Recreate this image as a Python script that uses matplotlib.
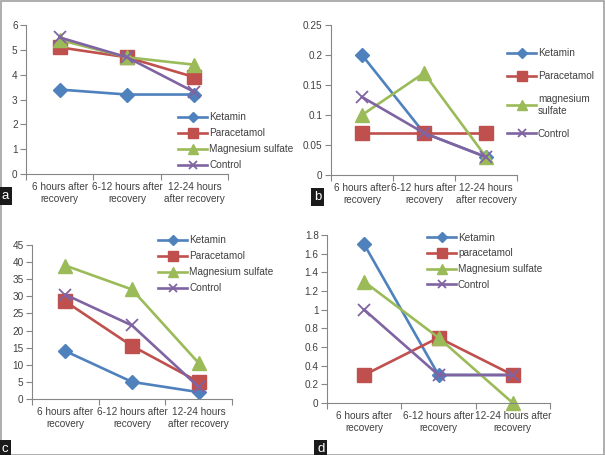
import matplotlib
matplotlib.use("Agg")
import matplotlib.pyplot as plt
from matplotlib.patches import Rectangle

plt.rcParams['font.family'] = ['Liberation Sans', 'DejaVu Sans']

# data
cats_a = ["6 hours after\nrecovery", "6-12 hours after\nrecovery", "12-24 hours\nafter recovery"]
cats_b = ["6 hours after\nrecovery", "6-12 hurs after\nrecovery", "12-24 hours\nafter recovery"]
cats_c = ["6 hours after\nrecovery", "6-12 hours after\nrecovery", "12-24 hours\nafter recovery"]
cats_d = ["6 hours after\nrecovery", "6-12 hours after\nrecovery", "12-24 hours after\nrecovery"]

names_a = ["Ketamin", "Paracetamol", "Magnesium sulfate", "Control"]
names_b = ["Ketamin", "Paracetamol", "magnesium\nsulfate", "Control"]
names_c = ["Ketamin", "Paracetamol", "Magnesium sulfate", "Control"]
names_d = ["Ketamin", "paracetamol", "Magnesium sulfate", "Control"]

ket_a = [3.4, 3.2, 3.2]
par_a = [5.1, 4.7, 3.9]
mag_a = [5.4, 4.7, 4.4]
con_a = [5.5, 4.7, 3.3]

ket_b = [0.2, 0.07, 0.03]
par_b = [0.07, 0.07, 0.07]
mag_b = [0.1, 0.17, 0.03]
con_b = [0.13, 0.07, 0.03]

ket_c = [14, 5, 2]
par_c = [28.5, 15.5, 5]
mag_c = [39, 32, 10.5]
con_c = [30.5, 21.5, 3.5]

ket_d = [1.7, 0.3, 0.3]
par_d = [0.3, 0.7, 0.3]
mag_d = [1.3, 0.7, 0.0]
con_d = [1.0, 0.3, 0.3]

yticks_a = [0, 1, 2, 3, 4, 5, 6]
yticks_b = [0, 0.05, 0.1, 0.15, 0.2, 0.25]
yticks_c = [0, 5, 10, 15, 20, 25, 30, 35, 40, 45]
yticks_d = [0, 0.2, 0.4, 0.6, 0.8, 1, 1.2, 1.4, 1.6, 1.8]

colors = ["#4F81BD", "#C0504D", "#9BBB59", "#8064A2"]
markers = ["D", "s", "^", "x"]
msizes = [7, 9.5, 10, 8]

W, H = 605, 455
fig = plt.figure(figsize=(W / 100, H / 100), dpi=100)
gray = "#868686"


def px_axes(x0, x1, ytop, ybot):
    return fig.add_axes([x0 / W, (H - ybot) / H, (x1 - x0) / W, (ybot - ytop) / H])


def panel(ax, series, names, cats, yticks, ylabels, leg_pos, spacing):
    for vals, name, c, m, ms in zip(series, names, colors, markers, msizes):
        ax.plot(range(3), vals, color=c, marker=m, markersize=ms, lw=1.9,
                label=name, markeredgecolor=c, markeredgewidth=1.3 if m == "x" else 1,
                clip_on=False)
    ax.set_xlim(-0.5, 2.5)
    ax.set_ylim(yticks[0], yticks[-1])
    ax.set_yticks(yticks)
    ax.set_yticklabels(ylabels)
    ax.set_xticks([-0.5, 0.5, 1.5, 2.5])
    ax.set_xticklabels([])
    ax.set_xticks([0, 1, 2], minor=True)
    ax.set_xticklabels(cats, minor=True, fontsize=7.2, color="#404040")
    ax.tick_params(axis="x", which="minor", length=0, pad=6)
    ax.tick_params(axis="x", which="major", length=4, color=gray, direction="out")
    ax.tick_params(axis="y", length=4, color=gray, labelsize=7.2, labelcolor="#404040", pad=2)
    for s in ["top", "right"]:
        ax.spines[s].set_visible(False)
    for s in ["left", "bottom"]:
        ax.spines[s].set_color(gray)
    ax.patch.set_alpha(0)
    leg = ax.legend(loc="upper left", bbox_to_anchor=(leg_pos[0] / W, 1 - leg_pos[1] / H),
                    bbox_transform=fig.transFigure, frameon=False, fontsize=7.2,
                    handlelength=2.9, handletextpad=0.2, labelspacing=spacing,
                    markerscale=0.7, borderpad=0, borderaxespad=0)
    for t in leg.get_texts():
        t.set_color("#404040")


ax_a = px_axes(26, 228, 25, 174)
panel(ax_a, [ket_a, par_a, mag_a, con_a], names_a, cats_a, yticks_a,
      [str(v) for v in yticks_a], (178, 112), 0.6)

ax_b = px_axes(331, 517, 25, 175)
panel(ax_b, [ket_b, par_b, mag_b, con_b], names_b, cats_b, yticks_b,
      ["0", "0.05", "0.1", "0.15", "0.2", "0.25"], (507, 48), 1.3)

ax_c = px_axes(32, 232, 245, 399)
panel(ax_c, [ket_c, par_c, mag_c, con_c], names_c, cats_c, yticks_c,
      [str(v) for v in yticks_c], (158, 235), 0.6)

ax_d = px_axes(327, 550, 235, 403)
panel(ax_d, [ket_d, par_d, mag_d, con_d], names_d, cats_d, yticks_d,
      ["0", "0.2", "0.4", "0.6", "0.8", "1", "1.2", "1.4", "1.6", "1.8"], (427, 233), 0.55)

# panel letters
for letter, x, y in [("a", 2, 196), ("b", 314, 197), ("c", 2, 449), ("d", 317, 449)]:
    fig.text(x / W, 1 - y / H, letter, color="white", fontsize=9.5, va="center", ha="left",
             bbox=dict(facecolor="#1a1a1a", edgecolor="none", boxstyle="square,pad=0.2"))

# outer frame
fig.patches.append(Rectangle((0.5 / W, 0.5 / H), 1 - 1.5 / W, 1 - 1.5 / H, transform=fig.transFigure,
                             fill=False, edgecolor="#a0a0a0", lw=1.2))

fig.savefig("out.png", dpi=100)
